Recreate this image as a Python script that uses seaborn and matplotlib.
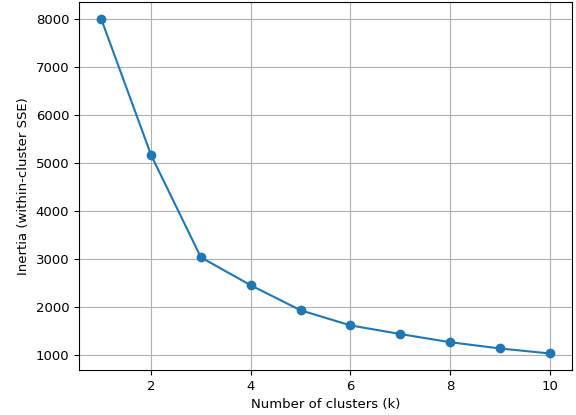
import matplotlib
matplotlib.use("Agg")
import matplotlib.pyplot as plt
import seaborn as sns
import pandas as pd

k_values = [1, 2, 3, 4, 5, 6, 7, 8, 9, 10]
inertia = [8000, 5170, 3040, 2460, 1940, 1625, 1445, 1275, 1145, 1040]

df = pd.DataFrame({"k": k_values, "inertia": inertia})

plt.rcParams["font.size"] = 9.5

fig, ax = plt.subplots(figsize=(5.76, 4.15), dpi=100)
sns.lineplot(data=df, x="k", y="inertia", marker="o", color="#1f77b4",
             markeredgecolor="#1f77b4", markeredgewidth=1, markersize=6, ax=ax)
ax.set_xlabel("Number of clusters (k)", fontsize=9.5)
ax.set_ylabel("Inertia (within-cluster SSE)", fontsize=9.5)
ax.tick_params(labelsize=9.5)
ax.grid(True, color="#b0b0b0", linewidth=0.8)
ax.set_axisbelow(True)
fig.subplots_adjust(left=0.137, right=0.993, top=0.994, bottom=0.108)
fig.savefig("out.png", dpi=100)
